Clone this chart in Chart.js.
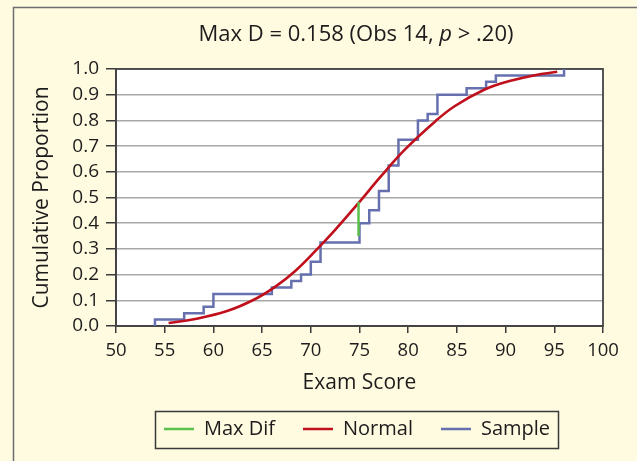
<!DOCTYPE html>
<html>
<head>
<meta charset="utf-8">
<script src="https://cdn.jsdelivr.net/npm/chart.js@4/dist/chart.umd.min.js"></script>
<style>
html,body{margin:0;padding:0;background:#FEFBE0;}
canvas{display:block;}
</style>
</head>
<body>
<canvas id="c" width="637" height="461"></canvas>
<script>
// ---- data ----
const titleParts = ['Max D = 0.158 (Obs 14, ', 'p', ' > .20)'];
const xAxisTitle = 'Exam Score';
const yAxisTitle = 'Cumulative Proportion';
const seriesNames = ['Max Dif', 'Normal', 'Sample'];

// Sample empirical CDF (step function): score where the step occurs, level after the step
const sampleScores = [54, 57, 59, 60, 66, 68, 69, 70, 71, 75, 76, 77, 78, 79, 81, 82, 83, 86, 88, 89, 96];
const sampleLevels = [0.025, 0.05, 0.075, 0.125, 0.15, 0.175, 0.2, 0.25, 0.325, 0.4, 0.45, 0.525, 0.625, 0.725, 0.8, 0.825, 0.9, 0.925, 0.95, 0.975, 1.0];

// Normal CDF curve
const normalX = [55.4, 58, 61.4, 64.3, 66.4, 68.4, 70.5, 72.5, 75, 77.1, 79.7, 82.8, 84.8, 87.9, 90.3, 93, 95.3];
const normalY = [0.012, 0.026, 0.058, 0.105, 0.154, 0.214, 0.293, 0.374, 0.483, 0.578, 0.688, 0.797, 0.856, 0.921, 0.952, 0.976, 0.989];

// Max difference segment
const maxDifX = [74.9, 74.9];
const maxDifY = [0.35, 0.483];

// axis ranges / ticks
const xMin = 50, xMax = 100, xStep = 5;
const yMin = 0, yMax = 1, yStep = 0.1;

// ---- build datasets ----
const samplePoints = [{x: sampleScores[0], y: 0}].concat(
  sampleScores.map((s, i) => ({x: s, y: sampleLevels[i]}))
);
const normalPoints = normalX.map((x, i) => ({x: x, y: normalY[i]}));
const maxDifPoints = maxDifX.map((x, i) => ({x: x, y: maxDifY[i]}));

const FONT = "'Open Sans', sans-serif";
const TXT = '#1E1B1C';
const GREEN = '#5CC04C';
const RED = '#C0101C';
const BLUE = '#6670AE';

const framePlugin = {
  id: 'frame',
  beforeDraw(chart) {
    const ctx = chart.ctx;
    ctx.save();
    ctx.fillStyle = '#FEFBE0';
    ctx.fillRect(0, 0, chart.width, chart.height);
    ctx.strokeStyle = '#6E6E6E';
    ctx.lineWidth = 1.5;
    ctx.beginPath();
    ctx.moveTo(13.5, chart.height + 2);
    ctx.lineTo(13.5, 7.5);
    ctx.lineTo(chart.width + 2, 7.5);
    ctx.stroke();
    const a = chart.chartArea;
    ctx.fillStyle = '#FFFFFF';
    ctx.fillRect(a.left, a.top, a.right - a.left, a.bottom - a.top);
    ctx.restore();
  },
  beforeDatasetsDraw(chart) {
    const ctx = chart.ctx, a = chart.chartArea;
    ctx.save();
    ctx.strokeStyle = '#444444';
    ctx.lineWidth = 1.8;
    ctx.strokeRect(a.left, a.top, a.right - a.left, a.bottom - a.top);
    ctx.restore();
  },
  afterLayout(chart) {
    const l = chart.legend;
    const a = chart.chartArea;
    const target = (a.left + a.right) / 2 - 2.5;
    const shift = target - (l.left + l.right) / 2;
    l.left += shift;
    l.right += shift;
  },
  afterDraw(chart) {
    const ctx = chart.ctx, a = chart.chartArea;
    // title with italic p
    const cx = (a.left + a.right) / 2 - 3.5;
    const cy = 35;
    const normalFont = '22px ' + FONT;
    const italicFont = 'italic 22px ' + FONT;
    ctx.save();
    ctx.fillStyle = TXT;
    ctx.textBaseline = 'middle';
    ctx.textAlign = 'left';
    const fonts = [normalFont, italicFont, normalFont];
    let widths = titleParts.map((t, i) => { ctx.font = fonts[i]; return ctx.measureText(t).width; });
    let total = widths.reduce((s, w) => s + w, 0);
    let x = cx - total / 2;
    titleParts.forEach((t, i) => { ctx.font = fonts[i]; ctx.fillText(t, x, cy); x += widths[i]; });
    // legend border box
    const l = chart.legend;
    const pad = l.options.labels.padding;
    const fs = l.options.labels.font.size;
    const lw = l.lineWidths[0];
    const startX = (l.left + pad + l.right - lw) / 2;
    const endX = startX + lw - pad;
    const midY = l.top + pad + fs / 2;
    ctx.strokeStyle = '#3A3A3A';
    ctx.lineWidth = 1.5;
    ctx.strokeRect(Math.round(startX - 9) + 0.5, Math.round(midY - 18.5) + 0.5, Math.round(endX - startX + 17), 37);
    ctx.restore();
  }
};

new Chart(document.getElementById('c'), {
  type: 'scatter',
  data: {
    datasets: [
      {
        label: seriesNames[0],
        data: maxDifPoints,
        showLine: true,
        borderColor: GREEN,
        backgroundColor: GREEN,
        borderWidth: 2.5,
        pointRadius: 0,
        pointHoverRadius: 0
      },
      {
        label: seriesNames[1],
        data: normalPoints,
        showLine: true,
        borderColor: RED,
        backgroundColor: RED,
        borderWidth: 2.6,
        pointRadius: 0,
        pointHoverRadius: 0,
        tension: 0.4
      },
      {
        label: seriesNames[2],
        data: samplePoints,
        showLine: true,
        stepped: 'before',
        borderColor: BLUE,
        backgroundColor: BLUE,
        borderWidth: 2.5,
        pointRadius: 0,
        pointHoverRadius: 0
      }
    ]
  },
  options: {
    responsive: false,
    animation: false,
    events: [],
    layout: { padding: { left: 14, right: 34, top: 69, bottom: 12 } },
    plugins: {
      title: { display: false },
      tooltip: { enabled: false },
      legend: {
        display: true,
        position: 'bottom',
        labels: {
          font: { family: FONT, size: 20 },
          color: TXT,
          boxWidth: 30,
          boxHeight: 0,
          padding: 28
        }
      }
    },
    scales: {
      x: {
        type: 'linear',
        min: xMin, max: xMax,
        ticks: {
          stepSize: xStep,
          autoSkip: false,
          maxRotation: 0,
          font: { family: FONT, size: 18.5 },
          color: TXT,
          padding: 7
        },
        grid: {
          drawOnChartArea: false,
          drawTicks: true,
          tickLength: 7,
          color: '#3A3A3A',
          tickColor: '#3A3A3A',
          lineWidth: 1.5
        },
        border: { display: true, color: '#3A3A3A', width: 1.8 },
        title: {
          display: true,
          text: xAxisTitle,
          font: { family: FONT, size: 21, lineHeight: 1 },
          color: TXT,
          padding: { top: 0, bottom: -2.5 }
        },
        afterFit(scale) { scale.height = 65; }
      },
      y: {
        type: 'linear',
        min: yMin, max: yMax,
        ticks: {
          stepSize: yStep,
          autoSkip: false,
          font: { family: FONT, size: 19 },
          color: TXT,
          padding: 7,
          callback: (v) => Number(v).toFixed(1)
        },
        grid: {
          drawOnChartArea: true,
          drawTicks: true,
          tickLength: 10,
          color: '#A8A8A8',
          tickColor: '#3A3A3A',
          lineWidth: 1.5
        },
        border: { display: true, color: '#3A3A3A', width: 1.8 },
        title: {
          display: true,
          text: yAxisTitle,
          font: { family: FONT, size: 21, lineHeight: 1 },
          color: TXT,
          padding: { top: 17.5, bottom: 0 }
        },
        afterFit(scale) { scale.width = 102; }
      }
    }
  },
  plugins: [framePlugin]
});
</script>
</body>
</html>
